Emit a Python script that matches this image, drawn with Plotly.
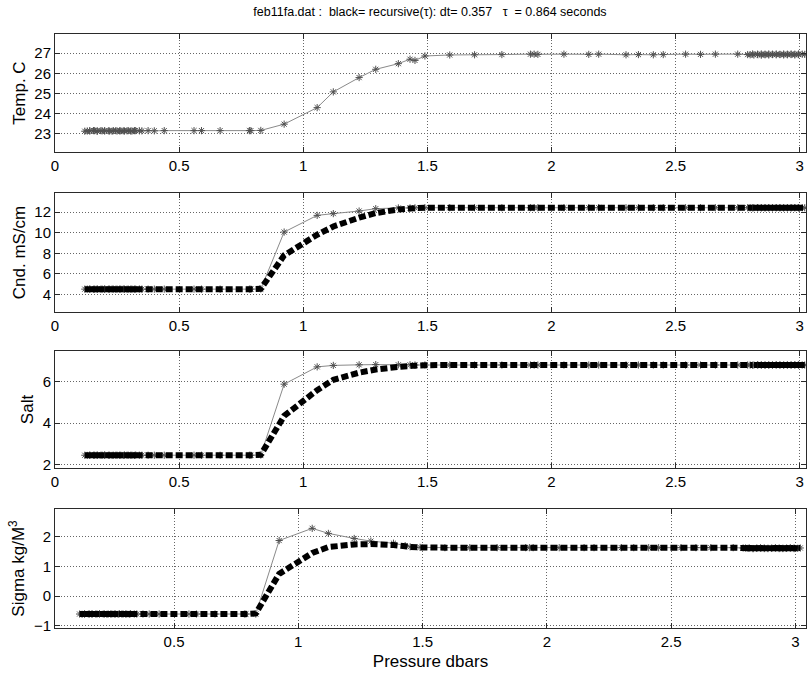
import plotly.graph_objects as go

# ---------------- data ----------------
# pressure samples: slow start (instrument jiggling near surface), descent, slow end
p_start = [0.12, 0.14, 0.13, 0.16, 0.14, 0.17, 0.155, 0.19, 0.17, 0.20, 0.185, 0.22, 0.20, 0.235, 0.215,
           0.25, 0.23, 0.265, 0.245, 0.28, 0.26, 0.295, 0.275, 0.31, 0.29, 0.325, 0.305, 0.34, 0.32, 0.35]
p_mid = [0.375, 0.40, 0.44, 0.56, 0.59, 0.665, 0.783, 0.789, 0.829, 0.923, 1.056, 1.121, 1.225, 1.292, 1.383,
         1.43, 1.45, 1.49, 1.59, 1.69, 1.80, 1.915, 1.93, 1.945, 2.05, 2.15, 2.19, 2.30, 2.35, 2.41, 2.45,
         2.54, 2.60, 2.66, 2.75]
p_end = [2.79, 2.81, 2.80, 2.83, 2.815, 2.845, 2.83, 2.86, 2.845, 2.875, 2.86, 2.89, 2.875, 2.905, 2.89,
         2.92, 2.905, 2.935, 2.92, 2.95, 2.935, 2.965, 2.95, 2.98, 2.965, 2.995, 2.98, 3.01, 2.995, 3.02]

temp_start = [23.13, 23.15, 23.14, 23.16, 23.15, 23.14, 23.16, 23.15, 23.13, 23.15, 23.16, 23.14, 23.15, 23.16, 23.15,
              23.14, 23.13, 23.15, 23.16, 23.14, 23.15, 23.16, 23.15, 23.14, 23.15, 23.16, 23.14, 23.15, 23.16, 23.15]
temp_mid = [23.16, 23.15, 23.16, 23.16, 23.16, 23.16, 23.16, 23.16, 23.17, 23.48, 24.30, 25.08, 25.79, 26.20, 26.48,
            26.70, 26.64, 26.86, 26.91, 26.92, 26.93, 26.95, 26.95, 26.94, 26.95, 26.94, 26.95, 26.92, 26.93, 26.92, 26.93,
            26.95, 26.94, 26.95, 26.95]
temp_end = [26.93, 26.96, 26.92, 26.95, 26.91, 26.96, 26.93, 26.95, 26.90, 26.96, 26.92, 26.95, 26.91, 26.96, 26.93,
            26.94, 26.92, 26.96, 26.93, 26.95, 26.91, 26.96, 26.92, 26.95, 26.93, 26.96, 26.91, 26.95, 26.93, 26.94]

cond_start = [4.52, 4.51, 4.52, 4.52, 4.53, 4.52, 4.51, 4.52, 4.52, 4.53, 4.52, 4.52, 4.51, 4.52, 4.52,
              4.52, 4.53, 4.52, 4.51, 4.52, 4.52, 4.52, 4.53, 4.52, 4.51, 4.52, 4.52, 4.53, 4.52, 4.52]
cond_mid = [4.52, 4.52, 4.52, 4.52, 4.52, 4.52, 4.52, 4.52, 4.53, 10.06, 11.68, 11.85, 12.10, 12.33, 12.40,
            12.40, 12.41, 12.42, 12.42, 12.42, 12.42, 12.42, 12.42, 12.42, 12.42, 12.42, 12.42, 12.42, 12.42, 12.42, 12.42,
            12.42, 12.42, 12.42, 12.42]
cond_end = [12.42, 12.41, 12.42, 12.43, 12.42, 12.41, 12.42, 12.42, 12.43, 12.42, 12.41, 12.42, 12.42, 12.43, 12.42,
            12.41, 12.42, 12.42, 12.43, 12.42, 12.41, 12.42, 12.42, 12.43, 12.42, 12.41, 12.42, 12.42, 12.43, 12.42]

cond_rec_start = [4.52, 4.52, 4.52, 4.52, 4.52, 4.52, 4.52, 4.52, 4.52, 4.52, 4.52, 4.52, 4.52, 4.52, 4.52,
                  4.52, 4.52, 4.52, 4.52, 4.52, 4.52, 4.52, 4.52, 4.52, 4.52, 4.52, 4.52, 4.52, 4.52, 4.52]
cond_rec_mid = [4.52, 4.52, 4.52, 4.52, 4.52, 4.52, 4.52, 4.52, 4.55, 7.80, 9.80, 10.60, 11.45, 11.90, 12.25,
                12.35, 12.38, 12.41, 12.42, 12.42, 12.42, 12.42, 12.42, 12.42, 12.42, 12.42, 12.42, 12.42, 12.42, 12.42, 12.42,
                12.42, 12.42, 12.42, 12.42]
cond_rec_end = [12.42, 12.42, 12.42, 12.42, 12.42, 12.42, 12.42, 12.42, 12.42, 12.42, 12.42, 12.42, 12.42, 12.42, 12.42,
                12.42, 12.42, 12.42, 12.42, 12.42, 12.42, 12.42, 12.42, 12.42, 12.42, 12.42, 12.42, 12.42, 12.42, 12.42]

salt_start = [2.44, 2.44, 2.43, 2.44, 2.44, 2.45, 2.44, 2.44, 2.43, 2.44, 2.44, 2.44, 2.45, 2.44, 2.44,
              2.44, 2.43, 2.44, 2.44, 2.45, 2.44, 2.44, 2.43, 2.44, 2.44, 2.45, 2.44, 2.44, 2.43, 2.44]
salt_mid = [2.44, 2.44, 2.44, 2.44, 2.44, 2.44, 2.44, 2.44, 2.45, 5.89, 6.73, 6.80, 6.83, 6.84, 6.83,
            6.83, 6.82, 6.82, 6.82, 6.82, 6.82, 6.82, 6.82, 6.82, 6.82, 6.82, 6.82, 6.82, 6.82, 6.82, 6.82,
            6.82, 6.82, 6.82, 6.82]
salt_end = [6.82, 6.81, 6.82, 6.83, 6.82, 6.81, 6.82, 6.82, 6.83, 6.82, 6.81, 6.82, 6.82, 6.83, 6.82,
            6.81, 6.82, 6.82, 6.83, 6.82, 6.81, 6.82, 6.82, 6.83, 6.82, 6.81, 6.82, 6.82, 6.83, 6.82]

salt_rec_start = [2.44, 2.44, 2.44, 2.44, 2.44, 2.44, 2.44, 2.44, 2.44, 2.44, 2.44, 2.44, 2.44, 2.44, 2.44,
                  2.44, 2.44, 2.44, 2.44, 2.44, 2.44, 2.44, 2.44, 2.44, 2.44, 2.44, 2.44, 2.44, 2.44, 2.44]
salt_rec_mid = [2.44, 2.44, 2.44, 2.44, 2.44, 2.44, 2.44, 2.44, 2.46, 4.35, 5.60, 6.10, 6.45, 6.60, 6.73,
                6.77, 6.79, 6.81, 6.82, 6.82, 6.82, 6.82, 6.82, 6.82, 6.82, 6.82, 6.82, 6.82, 6.82, 6.82, 6.82,
                6.82, 6.82, 6.82, 6.82]
salt_rec_end = [6.82, 6.82, 6.82, 6.82, 6.82, 6.82, 6.82, 6.82, 6.82, 6.82, 6.82, 6.82, 6.82, 6.82, 6.82,
                6.82, 6.82, 6.82, 6.82, 6.82, 6.82, 6.82, 6.82, 6.82, 6.82, 6.82, 6.82, 6.82, 6.82, 6.82]

sigma_start = [-0.60, -0.60, -0.61, -0.60, -0.60, -0.59, -0.60, -0.60, -0.61, -0.60, -0.60, -0.60, -0.59, -0.60, -0.60,
               -0.60, -0.61, -0.60, -0.60, -0.59, -0.60, -0.60, -0.61, -0.60, -0.60, -0.59, -0.60, -0.60, -0.61, -0.60]
sigma_mid = [-0.60, -0.60, -0.60, -0.60, -0.60, -0.60, -0.60, -0.60, -0.60, 1.87, 2.28, 2.11, 1.94, 1.85, 1.78,
             1.70, 1.66, 1.64, 1.63, 1.63, 1.63, 1.63, 1.63, 1.63, 1.63, 1.63, 1.63, 1.63, 1.63, 1.63, 1.63,
             1.63, 1.63, 1.63, 1.63]
sigma_end = [1.62, 1.61, 1.62, 1.60, 1.62, 1.61, 1.60, 1.62, 1.61, 1.60, 1.62, 1.61, 1.62, 1.61, 1.60,
             1.62, 1.61, 1.60, 1.62, 1.61, 1.62, 1.61, 1.60, 1.62, 1.61, 1.60, 1.62, 1.61, 1.62, 1.62]

sigma_rec_start = [-0.60, -0.60, -0.60, -0.60, -0.60, -0.60, -0.60, -0.60, -0.60, -0.60, -0.60, -0.60, -0.60, -0.60, -0.60,
                   -0.60, -0.60, -0.60, -0.60, -0.60, -0.60, -0.60, -0.60, -0.60, -0.60, -0.60, -0.60, -0.60, -0.60, -0.60]
sigma_rec_mid = [-0.60, -0.60, -0.60, -0.60, -0.60, -0.60, -0.60, -0.60, -0.58, 0.75, 1.45, 1.65, 1.74, 1.75, 1.72,
                 1.68, 1.65, 1.64, 1.63, 1.63, 1.63, 1.63, 1.63, 1.63, 1.63, 1.63, 1.63, 1.63, 1.63, 1.63, 1.63,
                 1.63, 1.63, 1.63, 1.63]
sigma_rec_end = [1.62, 1.61, 1.62, 1.61, 1.62, 1.61, 1.61, 1.62, 1.61, 1.61, 1.62, 1.61, 1.62, 1.61, 1.61,
                 1.62, 1.61, 1.61, 1.62, 1.61, 1.62, 1.61, 1.61, 1.62, 1.61, 1.61, 1.62, 1.61, 1.62, 1.62]

pressure = p_start + p_mid + p_end
temp_raw = temp_start + temp_mid + temp_end
cond_raw = cond_start + cond_mid + cond_end
cond_rec = cond_rec_start + cond_rec_mid + cond_rec_end
salt_raw = salt_start + salt_mid + salt_end
salt_rec = salt_rec_start + salt_rec_mid + salt_rec_end
sigma_raw = sigma_start + sigma_mid + sigma_end
sigma_rec = sigma_rec_start + sigma_rec_mid + sigma_rec_end

for arr in (temp_raw, cond_raw, cond_rec, salt_raw, salt_rec, sigma_raw, sigma_rec):
    assert len(arr) == len(pressure), len(arr)

y_titles = ["Temp. C", "Cnd. mS/cm", "Salt", "Sigma kg/M<sup>3</sup>"]
title_text = "feb11fa.dat :\u00a0 black= recursive(\u03c4): dt= 0.357 \u00a0 \u03c4 \u00a0= 0.864 seconds"
x_title = "Pressure dbars"

# ---------------- figure ----------------
W, H = 807, 674
FONT = "Liberation Sans, Arial, Helvetica, sans-serif"

boxes = [(34, 152), (193, 312), (351, 468), (509, 628)]   # panel (top, bottom) in px
yranges = [[22.1, 27.95], [2.3, 13.85], [1.82, 7.5], [-1.07, 2.93]]
ydticks = [1, 2, 2, 1]
xranges = [[0, 3.025], [0, 3.025], [0, 3.025], [0.021, 3.043]]

raw_series = [temp_raw, cond_raw, salt_raw, sigma_raw]
rec_series = [None, cond_rec, salt_rec, sigma_rec]

fig = go.Figure()

for i in range(4):
    xa = "x" if i == 0 else f"x{i+1}"
    ya = "y" if i == 0 else f"y{i+1}"
    fig.add_trace(go.Scatter(
        x=pressure, y=raw_series[i], xaxis=xa, yaxis=ya, mode="lines+markers",
        line=dict(color="#8a8a8a", width=1, simplify=False),
        marker=dict(symbol="asterisk-open", size=6, color="#505050",
                    line=dict(color="#505050", width=1)),
        showlegend=False, hoverinfo="skip"))
    if rec_series[i] is not None:
        fig.add_trace(go.Scatter(
            x=pressure, y=rec_series[i], xaxis=xa, yaxis=ya, mode="lines",
            line=dict(color="black", width=6, dash="7px,3px", simplify=False),
            showlegend=False, hoverinfo="skip"))

axis_common = dict(
    showline=True, linecolor="#2a2a2a", linewidth=1, mirror="ticks",
    ticks="inside", ticklen=5, tickcolor="#2a2a2a",
    showgrid=True, gridcolor="#666666", griddash="1px,2px", gridwidth=1,
    zeroline=False, tickfont=dict(family=FONT, size=15, color="black"),
    automargin=False,
)

layout = dict(
    width=W, height=H,
    margin=dict(l=55, r=1, t=0, b=0),
    paper_bgcolor="white", plot_bgcolor="white",
    font=dict(family=FONT, size=14, color="black"),
    title=dict(text=title_text, x=430 / W, xanchor="center", xref="container",
               y=1 - 12 / H, yanchor="middle", yref="container",
               font=dict(family=FONT, size=12.5, color="black")),
    showlegend=False,
)

for i in range(4):
    top, bot = boxes[i]
    dom = [1 - bot / H, 1 - top / H]
    xkey = "xaxis" if i == 0 else f"xaxis{i+1}"
    ykey = "yaxis" if i == 0 else f"yaxis{i+1}"
    xanchor = "y" if i == 0 else f"y{i+1}"
    yanchor = "x" if i == 0 else f"x{i+1}"
    xa = dict(axis_common, range=xranges[i], tick0=0, dtick=0.5, anchor=xanchor,
              domain=[0, 1])
    if i == 3:
        xa["title"] = dict(text=x_title, font=dict(family=FONT, size=17, color="black"), standoff=6)
    ya = dict(axis_common, range=yranges[i], tick0=0, dtick=ydticks[i], anchor=yanchor,
              domain=dom,
              title=dict(text=y_titles[i], font=dict(family=FONT, size=17, color="black"), standoff=4))
    layout[xkey] = xa
    layout[ykey] = ya

fig.update_layout(**layout)
fig.write_html("out.html")
